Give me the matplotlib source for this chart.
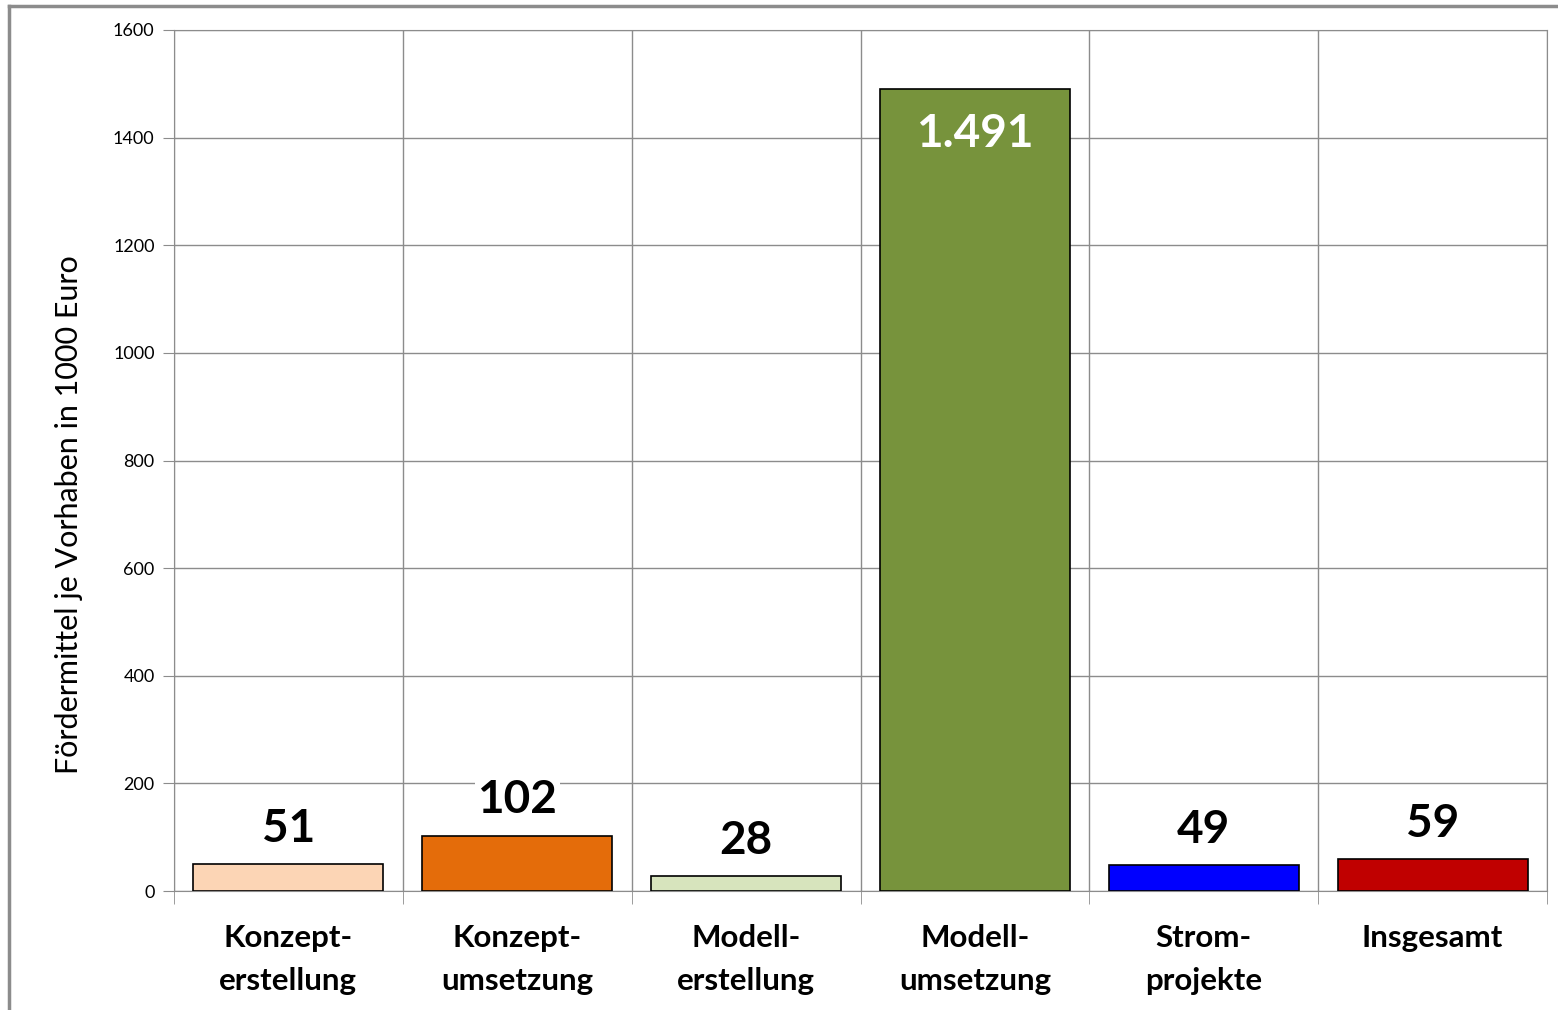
import numpy as np
import matplotlib.pyplot as plt
from matplotlib.lines import Line2D

# Daten
kategorien = ['Konzept-\nerstellung', 'Konzept-\numsetzung', 'Modell-\nerstellung',
              'Modell-\numsetzung', 'Strom-\nprojekte', 'Insgesamt']
werte = [51, 102, 28, 1491, 49, 59]
beschriftung = ['51', '102', '28', '1.491', '49', '59']
farben = ['#FCD5B5', '#E46C0A', '#D7E4BD', '#77933C', '#0000FF', '#C00000']

plt.rcParams['font.family'] = ['Lato', 'DejaVu Sans']
grau = '#8c8c8c'

fig = plt.figure(figsize=(15.58, 10.10), dpi=100)
ax = fig.add_axes([174/1558, 1 - 891/1010, (1547-174)/1558, (891-30)/1010])

x = np.arange(len(werte))
ax.bar(x, werte, width=0.83, color=farben, edgecolor='black', linewidth=1.2, zorder=3)

ax.set_xlim(-0.5, len(werte) - 0.5)
ax.set_ylim(0, 1600)
ax.set_yticks(np.arange(0, 1601, 200))
ax.tick_params(axis='y', labelsize=13, length=8, color=grau, pad=6)

# Kategorien: Beschriftung in der Mitte, Striche an den Grenzen
ax.set_xticks(x)
ax.set_xticklabels(kategorien, fontsize=22.5, fontweight='bold', linespacing=1.65)
ax.tick_params(axis='x', length=0, pad=24)
ax.set_xticks(np.arange(-0.5, len(werte)), minor=True)
ax.tick_params(axis='x', which='minor', length=9, color=grau)

ax.grid(axis='y', color=grau, linewidth=1, zorder=0)
ax.grid(axis='x', which='minor', color=grau, linewidth=1, zorder=0)
for s in ax.spines.values():
    s.set_color(grau)

ax.set_ylabel('Fördermittel je Vorhaben in 1000 Euro', fontsize=22)
ax.yaxis.set_label_coords(-0.066, 0.437)

label_y = [116, 169, 92, 1406, 114, 124]
for i, (t, yy) in enumerate(zip(beschriftung, label_y)):
    if i == 3:
        ax.text(i, yy, t, ha='center', va='center', fontsize=33, fontweight='bold',
                color='white', zorder=5)
    else:
        ax.text(i, yy, t, ha='center', va='center', fontsize=33, fontweight='bold',
                color='black', zorder=5,
                bbox=dict(facecolor='white', edgecolor='none', pad=2))

# Rahmen um die Grafik
fig.add_artist(Line2D([9/1558, 9/1558], [0, 1 - 6/1010], color=grau, linewidth=2.5))
fig.add_artist(Line2D([9/1558, 1], [1 - 6/1010, 1 - 6/1010], color=grau, linewidth=2.5))

fig.savefig('out.png', dpi=100)
